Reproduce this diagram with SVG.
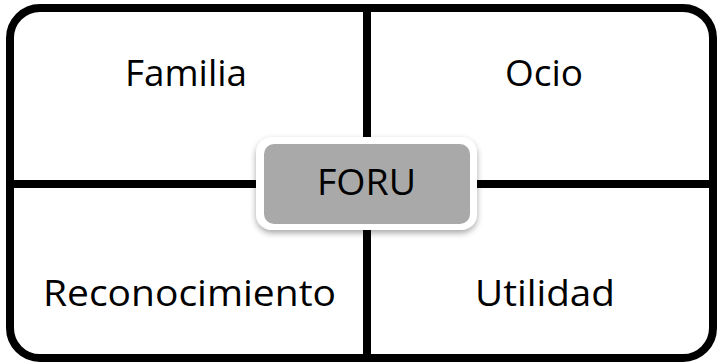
<svg xmlns="http://www.w3.org/2000/svg" width="717" height="362" viewBox="0 0 717 362">
<style>
.lbl{font-family:"Open Sans","Noto Sans","Liberation Sans",sans-serif;font-size:36px;fill:#000;text-anchor:middle}
.ln{stroke:#000;stroke-width:8;fill:none}
</style>
<defs>
<filter id="sh" x="-10%" y="-10%" width="120%" height="130%">
<feDropShadow dx="0" dy="3" stdDeviation="3" flood-color="#000" flood-opacity="0.35"/>
</filter>
</defs>
<rect width="717" height="362" fill="#fff"/>
<g id="frame">
<rect class="ln" x="10" y="8" width="703" height="350" rx="30"/>
</g>
<g id="connectors">
<line class="ln" x1="367" y1="8" x2="367" y2="358"/>
<line class="ln" x1="10" y1="184" x2="713" y2="184"/>
</g>
<g id="familia"><text class="lbl" x="186" y="86" textLength="122" lengthAdjust="spacingAndGlyphs">Familia</text></g>
<g id="ocio"><text class="lbl" x="544" y="86" textLength="78" lengthAdjust="spacingAndGlyphs">Ocio</text></g>
<g id="reconocimiento"><text class="lbl" x="189.5" y="306" textLength="293" lengthAdjust="spacingAndGlyphs">Reconocimiento</text></g>
<g id="utilidad"><text class="lbl" x="545" y="306" textLength="140" lengthAdjust="spacingAndGlyphs">Utilidad</text></g>
<g id="foru">
<rect x="256" y="137" width="221" height="93" rx="16" fill="#fff" filter="url(#sh)"/>
<rect x="264" y="144" width="206" height="80" rx="10" fill="#a9a9a9"/>
<text class="lbl" x="366.5" y="195" textLength="99" lengthAdjust="spacingAndGlyphs">FORU</text>
</g>
</svg>
